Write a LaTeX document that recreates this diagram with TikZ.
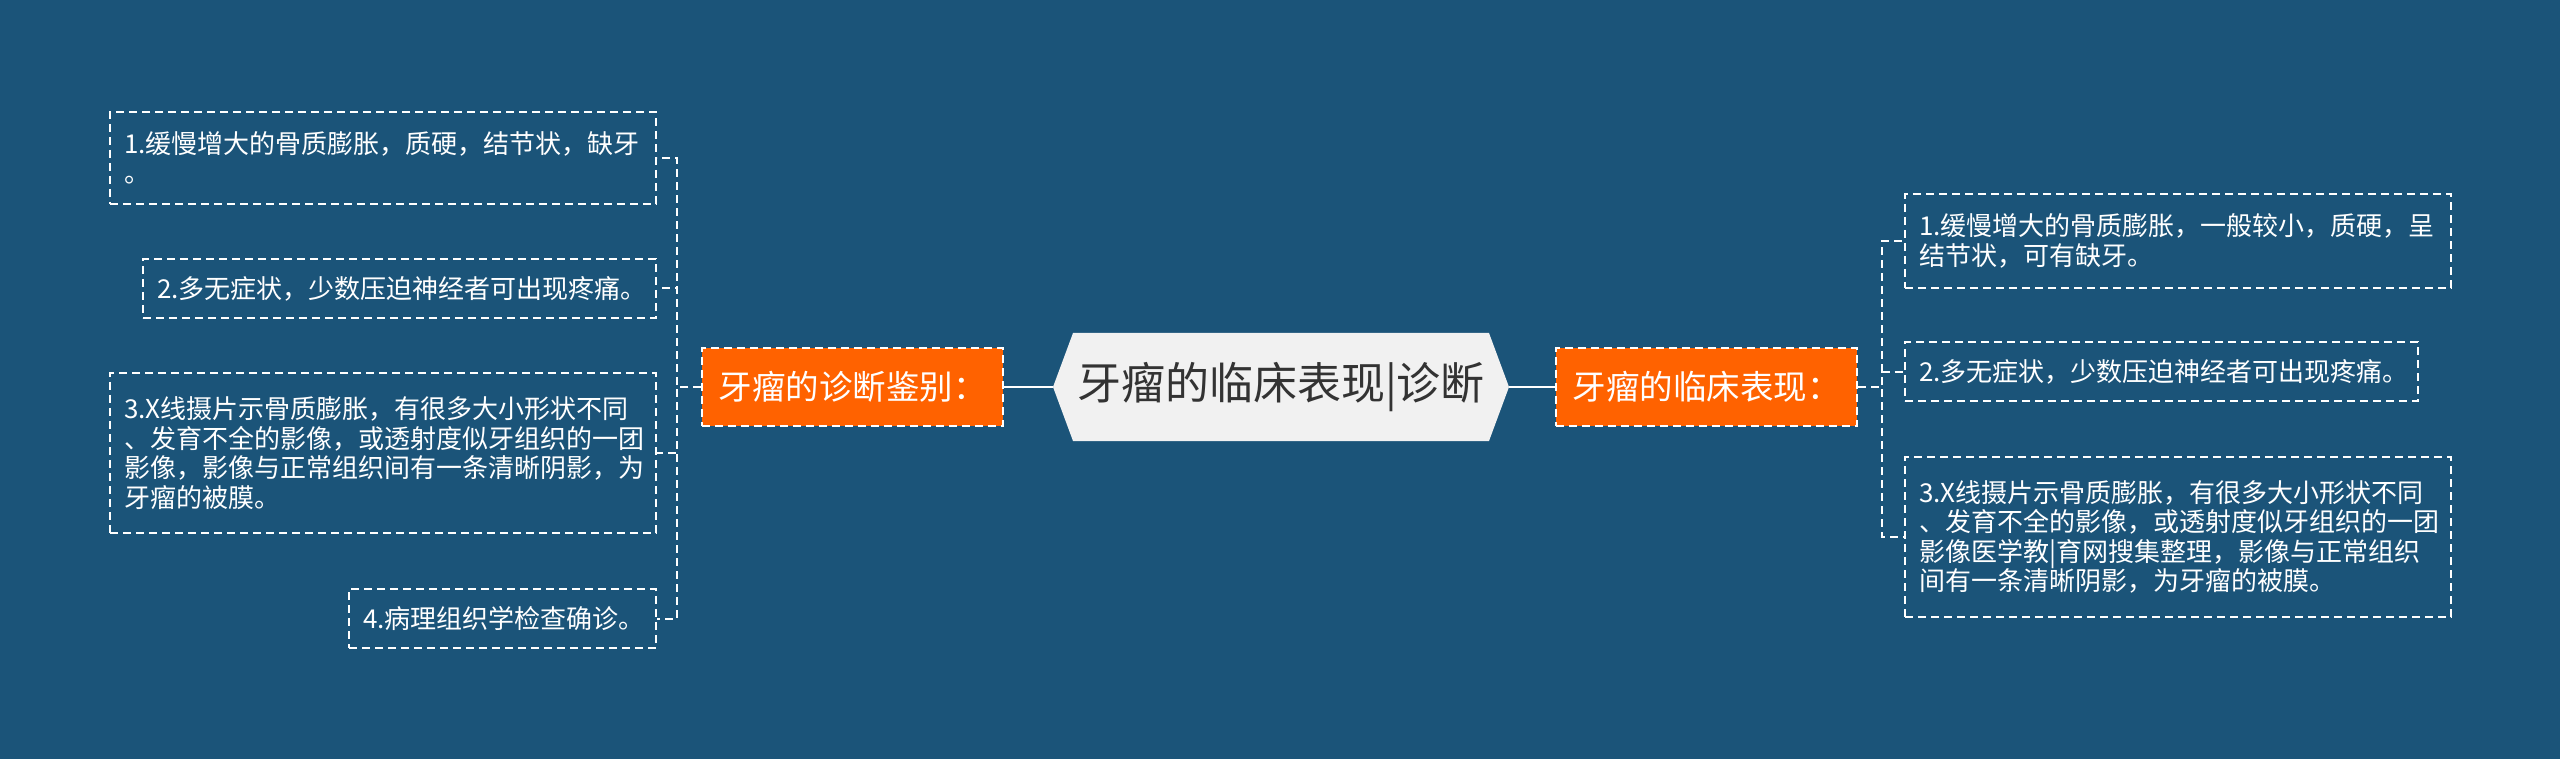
\documentclass[tikz,border=0pt]{standalone}
\usepackage{fontspec}
\setmainfont{Noto Sans CJK SC}
\usepackage{tikz}

\definecolor{mapbg}{RGB}{27,84,121}
\definecolor{mainorange}{RGB}{255,98,0}
\definecolor{rootgray}{RGB}{241,241,241}
\definecolor{roottext}{RGB}{51,51,51}

\tikzset{
  leaf/.style={draw=white, line width=2pt, dash pattern=on 8pt off 5pt,
    text=white, align=left, inner xsep=14pt, inner ysep=0pt, anchor=north west,
    font=\fontsize{26}{29.5}\selectfont},
  branch/.style={fill=mainorange, draw=white, line width=2pt, dash pattern=on 8pt off 5pt,
    text=white, inner sep=0pt, minimum width=301pt, minimum height=78pt,
    font=\fontsize{33.5}{38}\selectfont},
  rootbox/.style={fill=mapbg, inner sep=0pt, minimum width=456pt, minimum height=108pt,
    text=roottext, font=\fontsize{44}{50}\selectfont,
    path picture={\fill[rootgray] (path picture bounding box.west)
      -- ([xshift=20pt]path picture bounding box.north west)
      -- ([xshift=-20pt]path picture bounding box.north east)
      -- (path picture bounding box.east)
      -- ([xshift=-20pt]path picture bounding box.south east)
      -- ([xshift=20pt]path picture bounding box.south west) -- cycle;}},
  link/.style={white, line width=2pt, dash pattern=on 8pt off 5pt},
  trunk/.style={white, line width=2.4pt}
}

\begin{document}
\begin{tikzpicture}[x=1pt,y=-1pt]
  \fill[mapbg] (0,0) rectangle (2560,759);
  \useasboundingbox (0,0) rectangle (2560,759);

  \node[rootbox] (root) at (1281,387) {牙瘤的临床表现|诊断};

  \node[branch] (diag) at (852.5,387) {牙瘤的诊断鉴别：};
  \node[branch] (clin) at (1706.5,387) {牙瘤的临床表现：};

  \node[leaf, text width=518pt, minimum height=92pt] (dl1) at (109,111)
    {1.缓慢增大的骨质膨胀，质硬，结节状，缺牙\\。};
  \node[leaf, text width=485pt, minimum height=59pt] (dl2) at (142,258)
    {2.多无症状，少数压迫神经者可出现疼痛。};
  \node[leaf, text width=518pt, minimum height=160pt] (dl3) at (109,372)
    {3.X线摄片示骨质膨胀，有很多大小形状不同\\、发育不全的影像，或透射度似牙组织的一团\\影像，影像与正常组织间有一条清晰阴影，为\\牙瘤的被膜。};
  \node[leaf, text width=279pt, minimum height=59pt] (dl4) at (348,588)
    {4.病理组织学检查确诊。};

  \node[leaf, text width=518pt, minimum height=94pt] (cl1) at (1904,193)
    {1.缓慢增大的骨质膨胀，一般较小，质硬，呈\\结节状，可有缺牙。};
  \node[leaf, text width=485pt, minimum height=59pt] (cl2) at (1904,341)
    {2.多无症状，少数压迫神经者可出现疼痛。};
  \node[leaf, text width=518pt, minimum height=160pt] (cl3) at (1904,456)
    {3.X线摄片示骨质膨胀，有很多大小形状不同\\、发育不全的影像，或透射度似牙组织的一团\\影像医学教|育网搜集整理，影像与正常组织\\间有一条清晰阴影，为牙瘤的被膜。};

  \draw[trunk] (diag.east) -- (root.west);
  \draw[trunk] (root.east) -- (clin.west);

  \foreach \k in {dl1,dl2,dl3,dl4}
    \draw[link] (diag.west) -- ++(-24,0) |- (\k.east);
  \foreach \k in {cl1,cl2,cl3}
    \draw[link] (clin.east) -- ++(24,0) |- (\k.west);
\end{tikzpicture}
\end{document}
